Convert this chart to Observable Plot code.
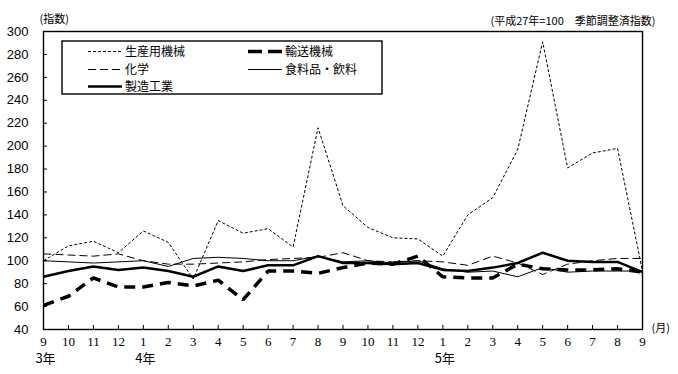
<!DOCTYPE html>
<html>
<head>
<meta charset="utf-8">
<script src="https://cdn.jsdelivr.net/npm/d3@7"></script>
<script src="https://cdn.jsdelivr.net/npm/@observablehq/plot@0.6"></script>
<style>
  html, body { margin: 0; padding: 0; background: #fff; }
</style>
</head>
<body>
<div id="chart"></div>
<script>
// ---- data ----
const keys = ["2021-09","2021-10","2021-11","2021-12","2022-01","2022-02","2022-03","2022-04","2022-05","2022-06","2022-07","2022-08","2022-09","2022-10","2022-11","2022-12","2023-01","2023-02","2023-03","2023-04","2023-05","2023-06","2023-07","2023-08","2023-09"];
const monthLabels = ["9","10","11","12","1","2","3","4","5","6","7","8","9","10","11","12","1","2","3","4","5","6","7","8","9"];
const yearKeys = ["2021-09","2022-01","2023-01"];
const yearLabels = ["3年","4年","5年"];
const yTicks = [40,60,80,100,120,140,160,180,200,220,240,260,280,300];

const seisanKikai = [100,113,117,107,126,116,84,135,124,128,112,216,148,129,120,119,104,140,155,197,291,181,194,198,91];
const yusoKikai   = [61,69,85,77,77,81,78,83,66,91,91,89,94,98,97,104,86,85,85,97,93,92,92,93,90];
const kagaku      = [106,105,104,106,100,97,97,98,99,101,102,103,107,100,99,100,99,96,104,98,88,97,100,102,102];
const shokuhin    = [100,99,98,99,100,95,102,103,102,100,100,104,99,100,98,100,93,90,91,86,94,90,91,91,91];
const seizo       = [86,91,95,92,94,91,86,95,91,96,96,104,98,98,97,98,92,91,94,98,107,100,99,99,90];

const seriesNames = ["生産用機械","輸送機械","化学","食料品・飲料","製造工業"];
const seriesValues = [seisanKikai, yusoKikai, kagaku, shokuhin, seizo];

const idx = keys.map((k, i) => i);
const rows = (vals) => keys.map((k, i) => ({i, key: k, value: vals[i]}));

const styles = {
  "生産用機械": {stroke: "#000", strokeWidth: 1, strokeDasharray: "3,2"},
  "輸送機械":   {stroke: "#000", strokeWidth: 3.5, strokeDasharray: "11,7"},
  "化学":       {stroke: "#000", strokeWidth: 1, strokeDasharray: "8,4"},
  "食料品・飲料": {stroke: "#000", strokeWidth: 1},
  "製造工業":   {stroke: "#000", strokeWidth: 2.5}
};
const legendDash = {
  "生産用機械": "3,2",
  "輸送機械": "14,6",
  "化学": "8,4",
  "食料品・飲料": null,
  "製造工業": null
};

const W = 678, H = 374, mL = 43, mR = 36, mT = 31, mB = 45;
const plotW = W - mL - mR, plotH = H - mT - mB;

const lineMarks = seriesNames.map((name, i) =>
  Plot.line(rows(seriesValues[i]), {x: "i", y: "value", ...styles[name], strokeLinejoin: "miter", strokeLinecap: "butt"})
);

const chart = Plot.plot({
  width: W, height: H,
  marginLeft: mL, marginRight: mR, marginTop: mT, marginBottom: mB,
  style: {fontFamily: "'Noto Sans CJK JP', sans-serif", background: "#fff", overflow: "visible"},
  x: {domain: [0, keys.length - 1]},
  y: {domain: [40, 300]},
  marks: [
    Plot.axisY({ticks: yTicks, tickSize: 0, tickPadding: 15, label: null, fontSize: 13, fontFamily: "'Liberation Sans', sans-serif", fill: "#000"}),
    Plot.axisX({ticks: idx, tickSize: 0, tickPadding: 7, label: null, fontSize: 13, fontFamily: "'Liberation Serif', serif", fill: "#000",
      tickFormat: d => monthLabels[d]}),
    Plot.tickY(yTicks, {y: d => d, insetRight: plotW - 4, stroke: "#000", strokeWidth: 1}),
    Plot.tickX(idx, {x: d => d, insetTop: plotH - 4, stroke: "#000", strokeWidth: 1}),
    ...lineMarks,
    Plot.frame({stroke: "#000", strokeWidth: 1.4}),
    Plot.text(yearKeys, {x: d => keys.indexOf(d), text: (d, i) => yearLabels[i], frameAnchor: "bottom", dy: 33, dx: 2, fontSize: 13, fill: "#000"}),
    Plot.text(["(指数)"], {text: d => d, frameAnchor: "top-left", textAnchor: "start", dx: -4, dy: -16, fontSize: 11, fill: "#000"}),
    Plot.text(["(平成27年=100　季節調整済指数)"], {text: d => d, frameAnchor: "top-right", textAnchor: "end", dx: 13, dy: -14, fontSize: 11, fill: "#000"}),
    Plot.text(["(月)"], {text: d => d, frameAnchor: "bottom-right", textAnchor: "start", dx: 9, dy: 2, fontSize: 11, fill: "#000"})
  ]
});

// ---- legend (inside plot area, top-left) ----
const svg = d3.select(chart);
const lg = svg.append("g").attr("class", "legend").attr("text-anchor", "start");
lg.append("rect").attr("x", 62).attr("y", 41).attr("width", 320).attr("height", 53)
  .attr("fill", "#fff").attr("stroke", "#000").attr("stroke-width", 1.4);
const legendPos = [
  {name: "生産用機械", x: 88, y: 51.5},
  {name: "輸送機械", x: 248, y: 51.5},
  {name: "化学", x: 88, y: 69.5},
  {name: "食料品・飲料", x: 248, y: 69.5},
  {name: "製造工業", x: 88, y: 86.5}
];
legendPos.forEach(p => {
  const s = styles[p.name];
  const ln = lg.append("line").attr("x1", p.x).attr("x2", p.x + 34).attr("y1", p.y).attr("y2", p.y)
    .attr("stroke", "#000").attr("stroke-width", s.strokeWidth);
  if (legendDash[p.name]) ln.attr("stroke-dasharray", legendDash[p.name]);
  lg.append("text").attr("x", p.x + 37).attr("y", p.y).attr("dy", "0.36em")
    .attr("text-anchor", "start")
    .attr("font-size", 12).attr("fill", "#000").text(p.name);
});

document.getElementById("chart").appendChild(chart);
</script>
</body>
</html>
